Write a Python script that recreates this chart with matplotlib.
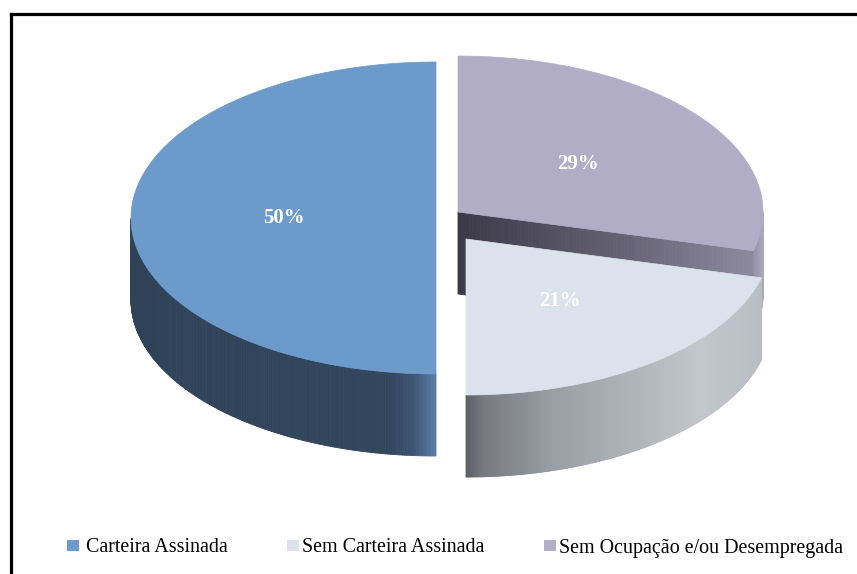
import numpy as np
import matplotlib
matplotlib.use("Agg")
import matplotlib.pyplot as plt
from matplotlib.collections import PolyCollection
from matplotlib.patches import Polygon, Rectangle
from matplotlib.colors import to_rgb
from matplotlib.lines import Line2D

# ---- data ----
categories = ["Carteira Assinada", "Sem Carteira Assinada", "Sem Ocupação e/ou Desempregada"]
values = [50, 21, 29]
labels = ["50%", "21%", "29%"]

# ---- styles / layout ----
top_colors = ["#6b9acb", "#dce2ec", "#b1adc6"]
legend_colors = ["#6d9bcc", "#dce2ec", "#b3afc7"]
side_stops = [
    [(0.0, "#2f4258"), (0.85, "#32465d"), (0.93, "#3e5676"), (1.0, "#5a7ca5")],
    [(0.0, "#5c6065"), (0.06, "#767a80"), (0.3, "#9a9fa6"), (0.8, "#c2c7ce"), (1.0, "#b9bec5")],
    [(0.0, "#928ea6"), (1.0, "#aaa6bd")],
]
cut_stops = [(0.0, "#3b3947"), (0.5, "#605d6f"), (1.0, "#8e8a9e")]
centers = [(436, 218), (466, 239), (458, 212)]
RX, RY, DEPTH = 305, 156, 82

W, H = 857, 574
fig = plt.figure(figsize=(W / 100, H / 100), dpi=100)
ax = fig.add_axes([0, 0, 1, 1])
ax.set_xlim(0, W)
ax.set_ylim(H, 0)
ax.axis("off")


def grad(stops, u):
    u = min(max(u, 0.0), 1.0)
    for (u0, c0), (u1, c1) in zip(stops[:-1], stops[1:]):
        if u <= u1:
            f = 0 if u1 == u0 else (u - u0) / (u1 - u0)
            a, b = np.array(to_rgb(c0)), np.array(to_rgb(c1))
            return tuple(a + (b - a) * f)
    return to_rgb(stops[-1][1])


def rim(c, th):
    return c[0] + RX * np.cos(th), c[1] - RY * np.sin(th)


# angles: start at 90 deg, counterclockwise
total = sum(values)
starts = []
acc = 90.0
for v in values:
    starts.append((acc, acc + 360.0 * v / total))
    acc += 360.0 * v / total

draw_order = [2, 1, 0]  # back to front
for i in draw_order:
    a0, a1 = starts[i]
    c = centers[i]
    # cut face that faces the viewer
    for edge, normal in ((a0, a0 - 90), (a1, a1 + 90)):
        if np.sin(np.radians(normal)) < -0.05:
            th = np.radians(edge)
            ex, ey = rim(c, th)
            n = 80
            polys, cols = [], []
            for k in range(n):
                t0, t1 = k / n, (k + 1) / n
                x0 = c[0] + (ex - c[0]) * t0; y0 = c[1] + (ey - c[1]) * t0
                x1 = c[0] + (ex - c[0]) * t1; y1 = c[1] + (ey - c[1]) * t1
                polys.append([(x0, y0), (x1, y1), (x1, y1 + DEPTH), (x0, y0 + DEPTH)])
                cols.append(grad(cut_stops, (t0 + t1) / 2))
            ax.add_collection(PolyCollection(polys, facecolors=cols, edgecolors=cols, linewidths=0.6))
    # outer curved side (front half only)
    ths = np.radians(np.linspace(a0, a1, 400))
    pts = [(th, rim(c, th)) for th in ths if np.sin(th) < 0]
    if len(pts) > 1:
        xs = [p[1][0] for p in pts]
        xmin, xmax = min(xs), max(xs)
        polys, cols = [], []
        for (t0, (x0, y0)), (t1, (x1, y1)) in zip(pts[:-1], pts[1:]):
            polys.append([(x0, y0), (x1, y1), (x1, y1 + DEPTH), (x0, y0 + DEPTH)])
            u = ((x0 + x1) / 2 - xmin) / max(xmax - xmin, 1e-6)
            cols.append(grad(side_stops[i], u))
        ax.add_collection(PolyCollection(polys, facecolors=cols, edgecolors=cols, linewidths=0.6))
    # top face
    tt = np.radians(np.linspace(a0, a1, 300))
    verts = [c] + [rim(c, t) for t in tt]
    ax.add_patch(Polygon(verts, closed=True, facecolor=top_colors[i], edgecolor=top_colors[i], lw=0.5))
    # label at half radius
    mid = np.radians((a0 + a1) / 2)
    lx = c[0] + 0.5 * RX * np.cos(mid)
    ly = c[1] - 0.5 * RY * np.sin(mid)
    ax.text(lx, ly, labels[i], color="white", fontsize=15, fontweight="bold",
            family="Liberation Serif", ha="center", va="center")

# frame (top and left)
ax.add_line(Line2D([11.5, W + 5], [13.5, 13.5], color="black", lw=2.3, solid_capstyle="projecting"))
ax.add_line(Line2D([11.5, 11.5], [13.5, H + 5], color="black", lw=2.3, solid_capstyle="projecting"))

# legend
leg_marker_x = [67, 287, 544]
leg_text_x = [86, 302, 559]
for cat, col, mx, tx in zip(categories, legend_colors, leg_marker_x, leg_text_x):
    ax.add_patch(Rectangle((mx, 539.5), 12, 11, facecolor=col, edgecolor="none"))
    ax.text(tx, 552.5, cat, fontsize=14.4, family="Liberation Serif", color="black",
            ha="left", va="baseline")

fig.savefig("out.png", dpi=100)
